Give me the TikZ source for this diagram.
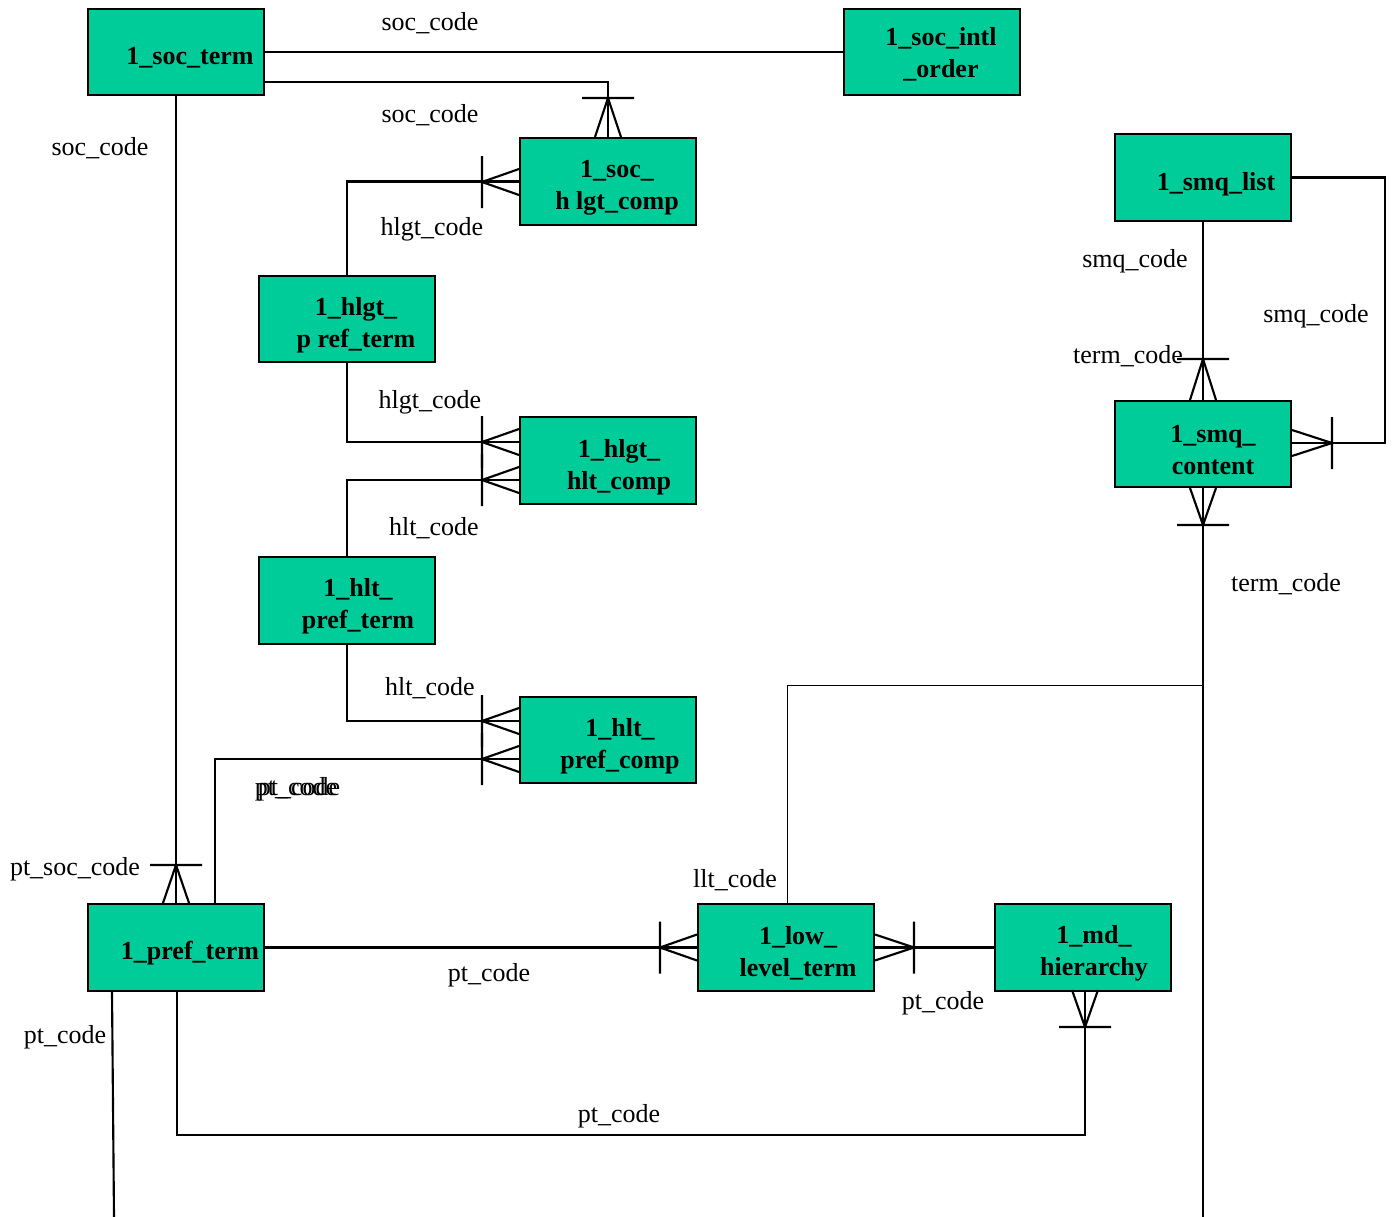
\documentclass[tikz,border=0pt]{standalone}
\usepackage{fontspec}
\setmainfont{Liberation Serif}
\usetikzlibrary{calc}
\definecolor{entgreen}{RGB}{0,204,153}

% crow's foot: #1 = point on the bar, #2 = run towards the box
\newcommand{\crowh}[2]{\draw[rel] (#1) -- ++(#2,-13) (#1) -- ++(#2,13) ($(#1)+(0,-26)$) -- ($(#1)+(0,26)$);}
\newcommand{\crowv}[2]{\draw[rel] (#1) -- ++(-13,#2) (#1) -- ++(13,#2) ($(#1)+(-26,0)$) -- ($(#1)+(26,0)$);}

\begin{document}
\begin{tikzpicture}[x=0.75pt, y=-0.75pt,
  entity/.style={draw, line width=1.5pt, fill=entgreen, minimum width=132pt, minimum height=65pt, inner sep=0pt},
  ename/.style={font=\fontsize{19.5}{24}\selectfont\bfseries, align=center, inner sep=0pt, yshift=-1.5pt},
  lbl/.style={font=\fontsize{19.5}{24}\selectfont, inner sep=0pt, yshift=-1.5pt},
  rel/.style={line width=1.6pt}]
\useasboundingbox (0,0) rectangle (1396,1217);

% entities
\node[entity] (socterm) at (176,52) {};
\node[entity] (socintl) at (932,52) {};
\node[entity] (sochlgt) at (608,181.5) {};
\node[entity] (hlgtpref) at (347,319) {};
\node[entity] (hlgthlt) at (608,460.5) {};
\node[entity] (hltpref) at (347,600.5) {};
\node[entity] (hltcomp) at (608,740) {};
\node[entity] (prefterm) at (176,947.5) {};
\node[entity] (lowterm) at (786,947.5) {};
\node[entity] (mdhier) at (1083,947.5) {};
\node[entity] (smqlist) at (1203,177.5) {};
\node[entity] (smqcont) at (1203,444) {};

\node[ename] (nsocterm) at (190,56) {1\_soc\_term};
\node[ename] (nsocintl) at (941,52) {1\_soc\_intl\\\_order};
\node[ename] (nsochlgt) at (617,186) {1\_soc\_\\h lgt\_comp};
\node[ename] (nhlgtpref) at (356,323) {1\_hlgt\_\\p ref\_term};
\node[ename] (nhlgthlt) at (619,465) {1\_hlgt\_\\hlt\_comp};
\node[ename] (nhltpref) at (358,604) {1\_hlt\_\\pref\_term};
\node[ename] (nhltcomp) at (620,744) {1\_hlt\_\\pref\_comp};
\node[ename] (nprefterm) at (190,951) {1\_pref\_term};
\node[ename] (nlowterm) at (798,951.5) {1\_low\_\\level\_term};
\node[ename] (nmdhier) at (1094,951.5) {1\_md\_\\hierarchy};
\node[ename] (nsmqlist) at (1216,182) {1\_smq\_list};
\node[ename] (nsmqcont) at (1213,448) {1\_smq\_\\content};

% free ends and bends
\coordinate (t1) at (608,98);
\coordinate (t2) at (176,865);
\coordinate (t3) at (482,182);
\coordinate (t4) at (482,442);
\coordinate (t5) at (482,480);
\coordinate (t6) at (482,721);
\coordinate (t7) at (482,759);
\coordinate (t8) at (660,947.5);
\coordinate (t9) at (914,947.5);
\coordinate (t10) at (1085,1027);
\coordinate (t11) at (1203,525);
\coordinate (t12) at (1203,359);
\coordinate (t13) at (1332,443);
\coordinate (jn) at (1203,685);
\coordinate (bend) at (1085,1135);
\coordinate (rbend) at (1385,443);
\coordinate (pend) at (114,1217);
\coordinate (send) at (1203,1217);

% relations
\draw[rel] (socterm.east) -- (socintl.west);
\draw[rel] ([yshift=-22.5pt]socterm.east) -| (sochlgt.north);
\crowv{t1}{39}
\draw[rel] (socterm.south) -- (prefterm.north);
\crowv{t2}{38}
\draw[rel] (hlgtpref.north) |- (sochlgt.west);
\crowh{t3}{37}
\draw[rel] (hlgtpref.south) |- ([yshift=13.9pt]hlgthlt.west);
\crowh{t4}{37}
\draw[rel] (hltpref.north) |- ([yshift=-14.6pt]hlgthlt.west);
\crowh{t5}{37}
\draw[rel] (hltpref.south) |- ([yshift=14.25pt]hltcomp.west);
\crowh{t6}{37}
\draw[rel] ([xshift=29.25pt]prefterm.north) |- ([yshift=-14.25pt]hltcomp.west);
\crowh{t7}{37}
\draw[rel] (prefterm.east) -- (lowterm.west);
\crowh{t8}{37}
\draw[rel] (mdhier.west) -- (lowterm.east);
\crowh{t9}{-39}
\draw[line width=0.75pt] ([xshift=0.75pt]lowterm.north) |- (jn);
\draw[rel] ([xshift=0.75pt]prefterm.south) |- (bend) -- ([xshift=1.5pt]mdhier.south);
\crowv{t10}{-37}
\draw[rel] ([xshift=-48pt]prefterm.south) -- (pend);
\draw[rel] (smqcont.south) -- (send);
\crowv{t11}{-37}
\draw[rel] (smqlist.south) -- (smqcont.north);
\crowv{t12}{41}
\draw[rel] (smqlist.east) -| (rbend) -- (smqcont.east |- rbend);
\crowh{t13}{-40}

% relation labels
\node[lbl] (lsoc1) at (430,21) {soc\_code};
\node[lbl] (lsoc2) at (430,113) {soc\_code};
\node[lbl] (lsoc3) at (100,146) {soc\_code};
\node[lbl] (lhlgt1) at (432,227) {hlgt\_code};
\node[lbl] (lhlgt2) at (430,400) {hlgt\_code};
\node[lbl] (lhlt1) at (434,526) {hlt\_code};
\node[lbl] (lhlt2) at (430,686) {hlt\_code};
\node[lbl] (lpt1a) at (296,787) {pt\_code};
\node[lbl] (lpt1b) at (299,787) {pt\_code};
\node[lbl] (lptsoc) at (75,867) {pt\_soc\_code};
\node[lbl] (lpt2) at (489,973) {pt\_code};
\node[lbl] (lllt) at (735,878) {llt\_code};
\node[lbl] (lpt3) at (943,1001) {pt\_code};
\node[lbl] (lpt4) at (65,1035) {pt\_code};
\node[lbl] (lpt5) at (619,1114) {pt\_code};
\node[lbl] (lsmq1) at (1135,259) {smq\_code};
\node[lbl] (lterm1) at (1128,354) {term\_code};
\node[lbl] (lsmq2) at (1316,314) {smq\_code};
\node[lbl] (lterm2) at (1286,582) {term\_code};

\end{tikzpicture}
\end{document}
